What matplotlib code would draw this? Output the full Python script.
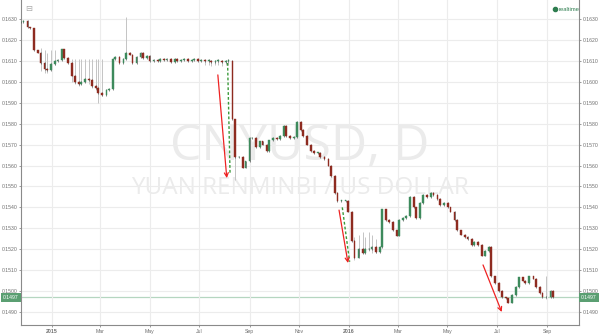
import pandas as pd
import numpy as np
import matplotlib
matplotlib.use("Agg")
import matplotlib.pyplot as plt
import matplotlib.dates as mdates

# closes every 3 business days
closes = [
    0.16285, 0.16290, 0.16260, 0.16255, 0.16150, 0.16140, 0.16090, 0.16060, 0.16055, 0.16085,
    0.16100, 0.16105, 0.16155, 0.16115, 0.16090, 0.16030, 0.16000, 0.15990, 0.16000, 0.16015,
    0.16010, 0.15980, 0.15970, 0.15945, 0.15935, 0.15960, 0.15965, 0.16110, 0.16120, 0.16090,
    0.16110, 0.16140, 0.16130, 0.16090, 0.16120, 0.16140, 0.16115, 0.16125, 0.16100, 0.16105,
    0.16100, 0.16110, 0.16105, 0.16110, 0.16095, 0.16110, 0.16100, 0.16105, 0.16110, 0.16100,
    0.16105, 0.16110, 0.16100, 0.16105, 0.16100, 0.16100, 0.16095, 0.16100, 0.16100, 0.16095,
    0.16100, 0.16100, 0.15820, 0.15640, 0.15640, 0.15590, 0.15620, 0.15730, 0.15730, 0.15690,
    0.15715, 0.15700, 0.15670, 0.15720, 0.15730, 0.15725, 0.15740, 0.15790, 0.15740, 0.15730,
    0.15735, 0.15810, 0.15770, 0.15740, 0.15700, 0.15670, 0.15660, 0.15660, 0.15640, 0.15630,
    0.15600, 0.15550, 0.15470, 0.15430, 0.15430, 0.15430, 0.15380, 0.15240, 0.15160, 0.15200,
    0.15180, 0.15200, 0.15200, 0.15210, 0.15185, 0.15210, 0.15390, 0.15340, 0.15330, 0.15290,
    0.15265, 0.15340, 0.15350, 0.15360, 0.15450, 0.15400, 0.15350, 0.15420, 0.15460, 0.15450,
    0.15470, 0.15460, 0.15440, 0.15410, 0.15420, 0.15400, 0.15380, 0.15340, 0.15290, 0.15270,
    0.15260, 0.15250, 0.15220, 0.15235, 0.15220, 0.15170, 0.15190, 0.15210, 0.15070, 0.15040,
    0.15000, 0.14970, 0.14965, 0.14945, 0.14980, 0.15020, 0.15065, 0.15050, 0.15040, 0.15070,
    0.15060, 0.15020, 0.14990, 0.14970, 0.14970, 0.15000, 0.14970,
]
start_date = "2014-11-24"

# long pale wicks (index into closes, wick high, wick low)
spike_idx = [6, 7, 8, 9, 10, 15, 16, 17, 18, 19, 20, 21, 22, 23, 24, 31,
             54, 55, 56, 57, 58, 59, 60, 61, 63, 98, 99, 100, 101, 102, 103, 104, 154]
spike_hi = [0.16160, 0.16150, 0.16140, 0.16150, 0.16150, 0.16110, 0.16110, 0.16110, 0.16110,
            0.16110, 0.16110, 0.16110, 0.16110, 0.16110, 0.16110, 0.16310,
            0.16105, 0.16105, 0.16105, 0.16105, 0.16105, 0.16105, 0.16105, 0.16105, 0.15820,
            0.15260, 0.15270, 0.15280, 0.15260, 0.15280, 0.15270, 0.15250, 0.15070]
spike_lo = [0.16050, 0.16040, 0.16040, 0.16060, 0.16080, 0.16000, 0.15990, 0.15980, 0.15990,
            0.16000, 0.15990, 0.15970, 0.15960, 0.15900, 0.15930, 0.16120,
            0.16080, 0.16080, 0.16075, 0.16080, 0.16080, 0.16075, 0.16080, 0.16080, 0.15530,
            0.15150, 0.15170, 0.15180, 0.15190, 0.15190, 0.15180, 0.15180, 0.14960]

# annotations drawn on the chart: (start date, start price, end date, end price)
red_arrows = [
    ("2015-07-24", 0.16033, "2015-08-04", 0.15540),
    ("2015-12-20", 0.15387, "2015-12-31", 0.15134),
    ("2016-06-14", 0.15125, "2016-07-07", 0.14900),
]
green_dashes = [
    ("2015-08-05", 0.16090, "2015-08-08", 0.15560),
    ("2015-12-24", 0.15400, "2016-01-02", 0.15140),
]
last_price = 0.1497

yticks = [0.1490, 0.1500, 0.1510, 0.1520, 0.1530, 0.1540, 0.1550, 0.1560,
          0.1570, 0.1580, 0.1590, 0.1600, 0.1610, 0.1620, 0.1630]
xtick_dates = ["2015-01-01", "2015-03-01", "2015-05-01", "2015-07-01", "2015-09-01",
               "2015-11-01", "2016-01-01", "2016-03-01", "2016-05-01", "2016-07-01",
               "2016-09-01"]
xtick_labels = ["2015", "Mar", "May", "Jul", "Sep", "Nov", "2016", "Mar", "May", "Jul", "Sep"]

UP = "#3d8a5c"
DOWN = "#8e2b20"
GRID = "#ececec"
TXT = "#6e6e6e"
FS = 3.7

plt.rcParams["font.family"] = ["Liberation Sans", "DejaVu Sans"]

dates = pd.bdate_range(start_date, periods=len(closes), freq="3B")
x = mdates.date2num(dates)
c = np.array(closes)
o = np.concatenate([[c[0]], c[:-1]])

fig = plt.figure(figsize=(6, 3.34), dpi=100)
ax = fig.add_axes([0.035, 0.027, 0.93, 0.973])

ax.set_xlim(mdates.date2num(pd.Timestamp("2014-11-24")), mdates.date2num(pd.Timestamp("2016-10-10")))
ax.set_ylim(0.14838, 0.16391)

# watermark
ax.text(0.5, 0.548, "CNYUSD, D", transform=ax.transAxes, ha="center", va="center",
        fontsize=36, color="#ebebeb", family="Open Sans", zorder=0)
ax.text(0.5, 0.42, "YUAN RENMINBI / US DOLLAR", transform=ax.transAxes, ha="center",
        va="center", fontsize=17.5, color="#ebebeb", family="Open Sans", zorder=0)

# grid
ax.set_yticks(yticks)
ax.set_yticklabels([f"{v:.4f}" for v in yticks])
ax.set_xticks(mdates.date2num(pd.to_datetime(xtick_dates)))
ax.set_xticklabels(xtick_labels)
for lab in ax.get_xticklabels():
    if lab.get_text() in ("2015", "2016"):
        lab.set_fontweight("bold")
ax.grid(True, color=GRID, lw=0.8, zorder=0)

ax.axhline(last_price, color="#b5d6c0", lw=0.9, zorder=1)

# pale spikes
sx = x[spike_idx]
ax.vlines(sx, spike_lo, spike_hi, color="#c4c4c4", lw=0.7, zorder=2)

# candles
body_lo = np.minimum(o, c)
body_h = np.maximum(np.abs(c - o), 0.00003)
cols = [UP if cc >= oo else DOWN for oo, cc in zip(o, c)]
ax.vlines(x, body_lo - 0.00004, body_lo + body_h + 0.00004, color="#555555", lw=0.5, zorder=3)
ax.bar(x, body_h, bottom=body_lo, width=2.2, color=cols, edgecolor=cols, lw=0.3, zorder=4)

for d0, p0, d1, p1 in green_dashes:
    ax.plot(mdates.date2num(pd.to_datetime([d0, d1])), [p0, p1], color="#3a9a3a",
            lw=1.0, ls=(0, (2, 1.5)), zorder=5)
for d0, p0, d1, p1 in red_arrows:
    ax.annotate("", xy=(mdates.date2num(pd.Timestamp(d1)), p1),
                xytext=(mdates.date2num(pd.Timestamp(d0)), p0),
                arrowprops=dict(arrowstyle="->", color="#ee2222", lw=0.9,
                                shrinkA=0, shrinkB=0, mutation_scale=7), zorder=6)

# axes look
for s in ("left", "bottom", "right"):
    ax.spines[s].set_color("#8a8a8a")
    ax.spines[s].set_linewidth(0.8)
ax.spines["top"].set_visible(False)
ax.tick_params(axis="both", labelsize=FS, colors="#8a8a8a", labelcolor=TXT, length=1.5, width=0.6, pad=1.2)
ax.tick_params(axis="y", which="both", left=True, right=True, labelleft=True, labelright=True)

# last price tags
for xpos, ha in ((0.0, "right"), (1.0, "left")):
    ax.annotate(f"{last_price:.4f}", xy=(xpos, last_price), xycoords=("axes fraction", "data"),
                xytext=(-1.5 if ha == "right" else 1.5, 0), textcoords="offset points",
                ha=ha, va="center", fontsize=FS, color="white", zorder=10,
                bbox=dict(boxstyle="square,pad=0.35", fc="#5b9f72", ec="none"),
                annotation_clip=False)

# legend
ax.plot([0.957], [0.972], "o", ms=3, color="#2e7d4f", transform=ax.transAxes, clip_on=False)
ax.text(0.964, 0.972, "realtime", transform=ax.transAxes, fontsize=4.2, color="#2e7d4f",
        ha="left", va="center")

# small icon top-left
ax.text(0.008, 0.975, "\u229f", transform=ax.transAxes, fontsize=6, color="#aaaaaa",
        ha="left", va="center", family="DejaVu Sans")

fig.savefig("out.png", dpi=100)
